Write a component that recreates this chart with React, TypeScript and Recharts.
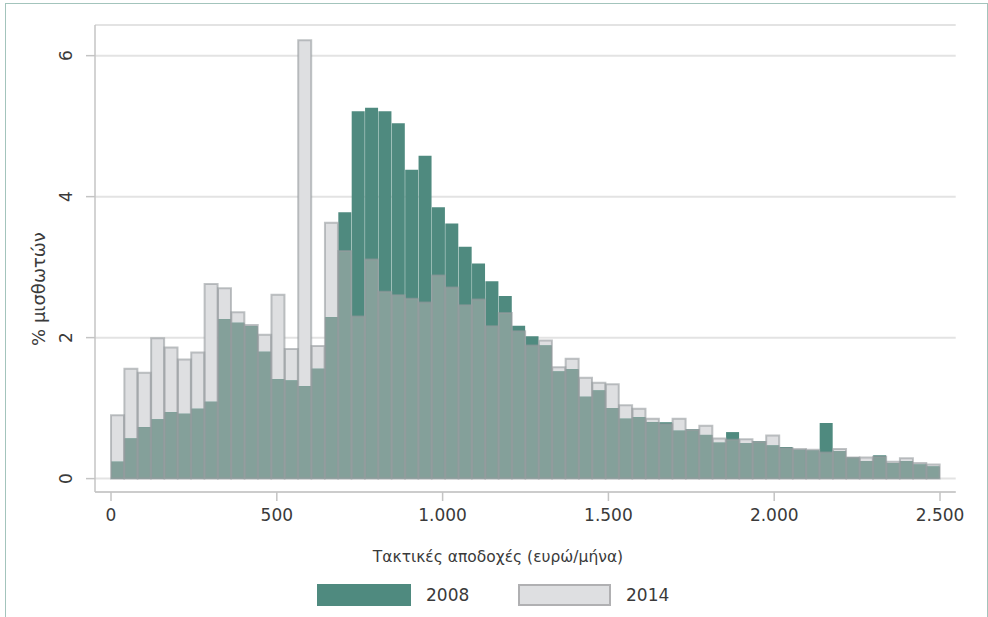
import { BarChart, Bar, XAxis, YAxis, CartesianGrid } from 'recharts';

// share of employees (%) per earnings bin, 62 equal bins from 0 to 2.500 euro
const share2008 = [
    0.24, 0.57, 0.73, 0.84, 0.94, 0.92, 0.99, 1.09, 2.26, 2.21,
    2.16, 1.80, 1.41, 1.39, 1.31, 1.56, 2.29, 3.78, 5.21, 5.26,
    5.21, 5.04, 4.38, 4.58, 3.85, 3.62, 3.29, 3.05, 2.80, 2.59,
    2.17, 2.02, 1.89, 1.52, 1.55, 1.16, 1.25, 1.00, 0.85, 0.87,
    0.80, 0.80, 0.68, 0.70, 0.62, 0.51, 0.66, 0.50, 0.53, 0.47,
    0.45, 0.41, 0.40, 0.79, 0.39, 0.30, 0.25, 0.33, 0.22, 0.25,
    0.20, 0.17,
];
const share2014 = [
    0.90, 1.56, 1.50, 1.99, 1.86, 1.69, 1.79, 2.76, 2.70, 2.36,
    2.18, 2.04, 2.61, 1.84, 6.22, 1.88, 3.63, 3.23, 2.30, 3.11,
    2.65, 2.60, 2.55, 2.50, 2.88, 2.71, 2.46, 2.54, 2.16, 2.35,
    2.09, 1.89, 1.96, 1.58, 1.70, 1.43, 1.36, 1.34, 1.04, 0.99,
    0.85, 0.77, 0.85, 0.69, 0.75, 0.57, 0.55, 0.56, 0.52, 0.61,
    0.43, 0.42, 0.41, 0.37, 0.42, 0.30, 0.30, 0.31, 0.24, 0.29,
    0.22, 0.20,
];
const maxEarnings = 2500;
const xTicks = [0, 500, 1000, 1500, 2000, 2500];
const xTickLabels = ['0', '500', '1.000', '1.500', '2.000', '2.500'];
const yTicks = [0, 2, 4, 6];

const TEAL = '#4f8a7f';
const GRAY = '#dedfe1';
const OVERLAP = '#84a09a';
const OUTLINE = 'rgba(150,155,158,0.6)';
const AXIS = '#c4c4c4';
const TEXT = '#3a3a3a';
const FONT = '"DejaVu Sans", sans-serif';

const binWidth = maxEarnings / share2008.length;
const rows = share2008.map((v, i) => ({
    mid: (i + 0.5) * binWidth,
    y2008: v,
    y2014: share2014[i],
    both: Math.min(v, share2014[i]),
}));

const xDomain = [-48.3, 2547.3];

function YTick({ x, y, payload }: any) {
    const bx = x - 11.5;
    return (
        <text x={bx} y={y} transform={`rotate(-90 ${bx} ${y})`} textAnchor="middle"
            fontSize={17} fill={TEXT} fontFamily={FONT}>
            {payload.value}
        </text>
    );
}

function XTick({ x, y, payload }: any) {
    const i = xTicks.indexOf(payload.value);
    return (
        <text x={x} y={y} dy={12} textAnchor="middle" fontSize={17} fill={TEXT} fontFamily={FONT}>
            {xTickLabels[i]}
        </text>
    );
}

export default function App() {
    return (
        <div style={{ position: 'absolute', left: 0, top: 0, width: 988, height: 617, background: '#fff', overflow: 'hidden' }}>
            <BarChart width={988} height={617} data={rows}
                margin={{ top: 25, right: 32.3, bottom: 95, left: 35 }}
                barCategoryGap={0} barGap={0} style={{ position: 'absolute', left: 0, top: 0, fontFamily: FONT }}>
                <CartesianGrid vertical={false} stroke="#e3e3e3" strokeWidth={2} xAxisId="x" />
                <XAxis xAxisId="g" dataKey="mid" type="number" domain={xDomain} allowDataOverflow hide height={0} />
                <XAxis xAxisId="t" dataKey="mid" type="number" domain={xDomain} allowDataOverflow hide height={0} />
                <XAxis xAxisId="o" dataKey="mid" type="number" domain={xDomain} allowDataOverflow hide height={0} />
                <XAxis xAxisId="x" dataKey="mid" type="number" domain={xDomain} allowDataOverflow
                    ticks={xTicks} interval={0} height={30} tickSize={9} tickMargin={8}
                    axisLine={{ stroke: AXIS, strokeWidth: 1.5 }} tickLine={{ stroke: AXIS, strokeWidth: 1.5 }}
                    tick={<XTick />} />
                <YAxis width={60} domain={[-0.19, 6.435]} allowDataOverflow ticks={yTicks} interval={0}
                    tickSize={9} tickMargin={2}
                    axisLine={{ stroke: AXIS, strokeWidth: 1.5 }} tickLine={{ stroke: AXIS, strokeWidth: 1.5 }}
                    tick={<YTick />} />
                <Bar xAxisId="g" dataKey="y2014" fill={GRAY} isAnimationActive={false} />
                <Bar xAxisId="t" dataKey="y2008" fill={TEAL} isAnimationActive={false} />
                <Bar xAxisId="o" dataKey="both" fill={OVERLAP} isAnimationActive={false} />
                <Bar xAxisId="x" dataKey="y2014" fill="none" stroke={OUTLINE} strokeWidth={2} isAnimationActive={false} />
                <text x={44.5} y={289} transform="rotate(-90 44.5 289)" textAnchor="middle"
                    fontSize={18} fill={TEXT} fontFamily={FONT}>% μισθωτών</text>
                <text x={498} y={562} textAnchor="middle" fontSize={15.5} fill={TEXT} fontFamily={FONT}>
                    Τακτικές αποδοχές (ευρώ/μήνα)
                </text>
            </BarChart>
            <div style={{
                position: 'absolute', left: 5, top: 3, width: 981, height: 620, pointerEvents: 'none',
                borderLeft: '1.5px solid #a3c4bc', borderTop: '1.5px solid #a3c4bc', borderRight: '1.5px solid #a3c4bc',
            }} />
            <div style={{ position: 'absolute', left: 317, top: 584, width: 94, height: 22, background: TEAL }} />
            <div style={{ position: 'absolute', left: 426, top: 584, height: 22, lineHeight: '22px', fontSize: 17, color: TEXT, fontFamily: FONT }}>2008</div>
            <div style={{ position: 'absolute', left: 518, top: 584, width: 93, height: 22, boxSizing: 'border-box', background: GRAY, border: '2px solid #b0b0b2' }} />
            <div style={{ position: 'absolute', left: 626, top: 584, height: 22, lineHeight: '22px', fontSize: 17, color: TEXT, fontFamily: FONT }}>2014</div>
        </div>
    );
}
